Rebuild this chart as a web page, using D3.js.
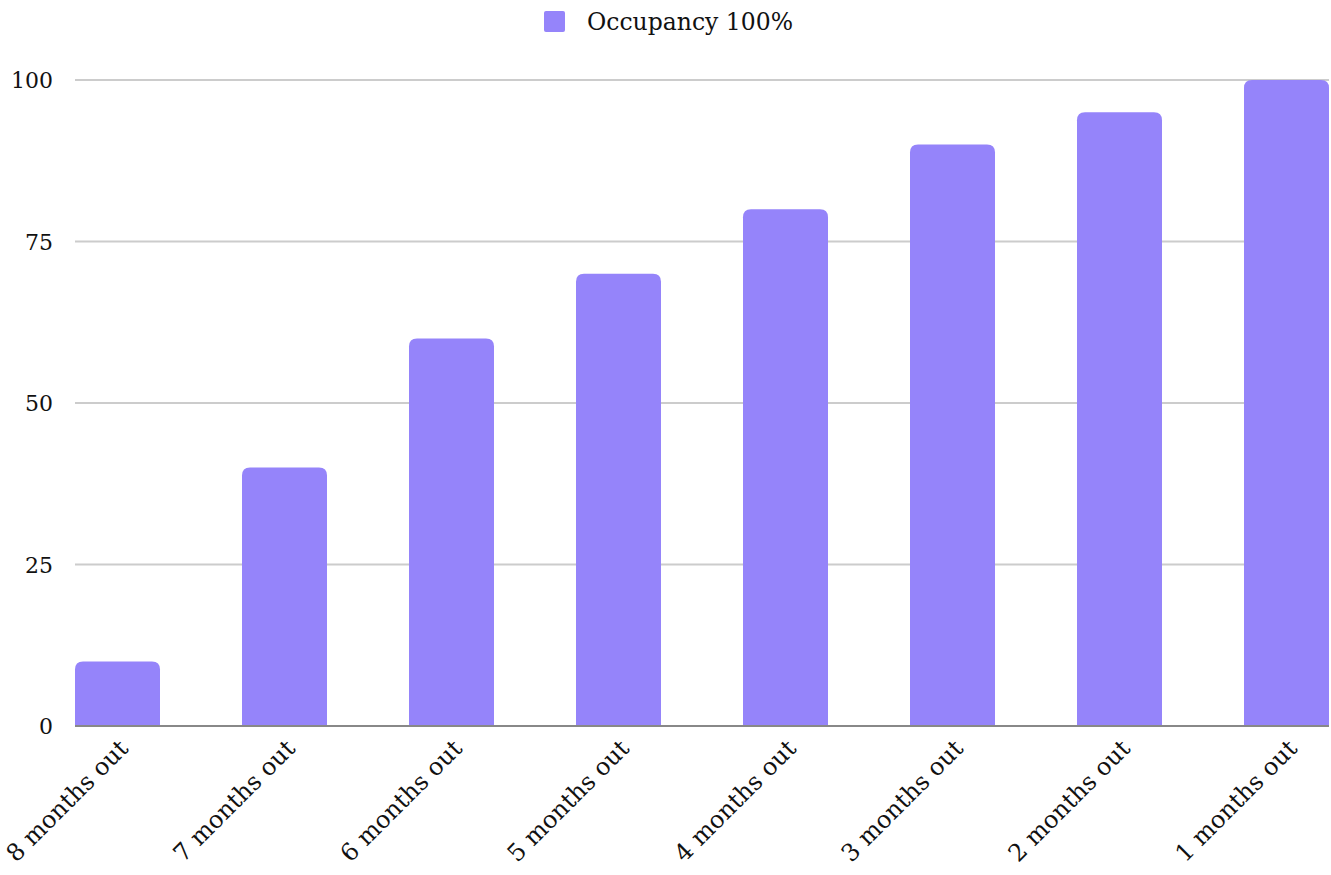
<!DOCTYPE html>
<html>
<head>
<meta charset="utf-8">
<script src="https://cdn.jsdelivr.net/npm/d3@7"></script>
<style>
  body { margin: 0; background: #fff; }
  text { font-family: "DejaVu Serif", serif; fill: #111; }
</style>
</head>
<body>
<svg id="chart" width="1331" height="875"></svg>
<script>
var categories = ["8 months out", "7 months out", "6 months out", "5 months out",
                  "4 months out", "3 months out", "2 months out", "1 months out"];
var occupancy = [10, 40, 60, 70, 80, 90, 95, 100];
var yTicks = [0, 25, 50, 75, 100];
var seriesName = "Occupancy 100%";

function drawChart() {
    var svg = d3.select("#chart");
    var plotLeft = 75, plotRight = 1329, plotTop = 80, plotBottom = 726;
    var barColor = "#9584fa";

    var x = d3.scaleBand().domain(categories).range([plotLeft, plotRight])
        .paddingInner(0.491).paddingOuter(0);
    var y = d3.scaleLinear().domain([0, 100]).range([plotBottom, plotTop]);

    // gridlines
    svg.append("g").selectAll("line")
        .data(yTicks.filter(function(d) { return d > 0; }))
        .enter().append("line")
        .attr("x1", plotLeft).attr("x2", plotRight)
        .attr("y1", function(d) { return y(d); })
        .attr("y2", function(d) { return y(d); })
        .attr("stroke", "#cccccc").attr("stroke-width", 2);

    // y labels
    svg.append("g").selectAll("text")
        .data(yTicks)
        .enter().append("text")
        .attr("x", 53)
        .attr("y", function(d) { return y(d) + 8; })
        .attr("text-anchor", "end")
        .style("font-size", "22px")
        .text(function(d) { return d; });

    // bars with rounded tops
    var r = 8;
    svg.append("g").selectAll("path")
        .data(occupancy)
        .enter().append("path")
        .attr("fill", barColor)
        .attr("d", function(d, i) {
            var x0 = x(categories[i]), w = x.bandwidth();
            var y0 = y(d), y1 = y(0);
            return "M" + x0 + "," + y1 +
                "V" + (y0 + r) +
                "Q" + x0 + "," + y0 + " " + (x0 + r) + "," + y0 +
                "H" + (x0 + w - r) +
                "Q" + (x0 + w) + "," + y0 + " " + (x0 + w) + "," + (y0 + r) +
                "V" + y1 + "Z";
        });

    // baseline
    svg.append("line")
        .attr("x1", plotLeft).attr("x2", plotRight)
        .attr("y1", plotBottom).attr("y2", plotBottom)
        .attr("stroke", "#888888").attr("stroke-width", 2);

    // x labels
    svg.append("g").selectAll("text")
        .data(categories)
        .enter().append("text")
        .attr("transform", function(d) {
            var cx = x(d) + x.bandwidth() / 2 + 12;
            return "translate(" + cx + "," + 750 + ") rotate(-45)";
        })
        .attr("text-anchor", "end")
        .style("font-size", "24px")
        .text(function(d) { return d; });

    // legend
    svg.append("rect")
        .attr("x", 544).attr("y", 11).attr("width", 21).attr("height", 21)
        .attr("rx", 2).attr("fill", barColor);
    svg.append("text")
        .attr("x", 587).attr("y", 30)
        .style("font-size", "23.5px")
        .text(seriesName);
}

drawChart();
</script>
</body>
</html>
